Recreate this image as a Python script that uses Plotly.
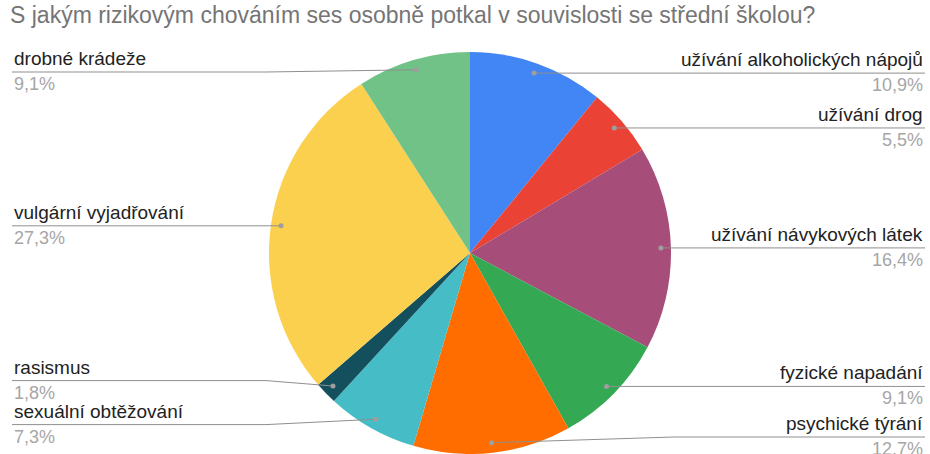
import math
import plotly.graph_objects as go

# ---- data ----
categories = ["užívání alkoholických nápojů", "užívání drog", "užívání návykových látek",
              "fyzické napadání", "psychické týrání", "sexuální obtěžování", "rasismus",
              "vulgární vyjadřování", "drobné krádeže"]
percent = [10.9, 5.5, 16.4, 9.1, 12.7, 7.3, 1.8, 27.3, 9.1]
colors = ["#4285F4", "#EA4335", "#A64D79", "#34A853", "#FF6D01", "#46BDC6",
          "#134F5C", "#FCD04F", "#71C287"]
title = "S jakým rizikovým chováním ses osobně potkal v souvislosti se střední školou?"

# ---- layout geometry ----
FW, FH = 930, 454
L, R_, T, B = 10, 0, 52, 0
W, H = FW - L - R_, FH - T - B
cx, cy = L + W / 2, T + H / 2
rad = min(W, H) / 2
FONT = "Arial, Liberation Sans"


def px(x):
    return (x - L) / W


def py(y):
    return 1 - (y - T) / H


fig = go.Figure(go.Pie(
    labels=categories, values=percent, sort=False, direction="clockwise",
    rotation=0, marker=dict(colors=colors, line=dict(width=0)),
    textinfo="none", hoverinfo="label+percent", showlegend=False,
    domain=dict(x=[0, 1], y=[0, 1]),
))

# label positions derived from slice angles
total = sum(percent)
items = []
acc = 0
for i, v in enumerate(percent):
    mid = (acc + v / 2) / total * 2 * math.pi
    acc += v
    dx, dy = math.sin(mid), -math.cos(mid)
    dotx, doty = cx + 0.95 * rad * dx, cy + 0.95 * rad * dy
    items.append(dict(i=i, side="r" if dx >= 0 else "l", dotx=dotx, doty=doty, ly=doty))

YMIN, YMAX, GAP = 72, 437, 44
for side in ("r", "l"):
    grp = sorted([it for it in items if it["side"] == side], key=lambda t: t["doty"])
    for _ in range(200):
        for a, b in zip(grp, grp[1:]):
            d = b["ly"] - a["ly"]
            if d < GAP:
                m = (GAP - d) / 2
                a["ly"] -= m
                b["ly"] += m
        for it in grp:
            it["ly"] = min(max(it["ly"], YMIN), YMAX)

shapes, annotations = [], []
LINE = "#8f8f8f"
for it in items:
    i = it["i"]
    right = it["side"] == "r"
    edge = 925 if right else 12
    bend = cx + (rad + 3) * (1 if right else -1)
    if abs(it["ly"] - it["doty"]) < 1.5:
        path = f"M {px(it['dotx'])} {py(it['doty'])} L {px(edge)} {py(it['doty'])}"
        ly = it["doty"]
    else:
        ly = it["ly"]
        path = (f"M {px(it['dotx'])} {py(it['doty'])} L {px(bend)} {py(ly)} "
                f"L {px(edge)} {py(ly)}")
    shapes.append(dict(type="path", path=path, xref="paper", yref="paper",
                       line=dict(color=LINE, width=1)))
    r = 2.5
    shapes.append(dict(type="circle", xref="paper", yref="paper",
                       x0=px(it["dotx"] - r), x1=px(it["dotx"] + r),
                       y0=py(it["doty"] - r), y1=py(it["doty"] + r),
                       fillcolor="#9e9e9e", line=dict(width=0)))
    anchor = "right" if right else "left"
    annotations.append(dict(x=px(edge), y=py(ly), xref="paper", yref="paper",
                            text=categories[i], showarrow=False, xanchor=anchor,
                            yanchor="bottom", yshift=1,
                            font=dict(family=FONT, size=19, color="#222222")))
    annotations.append(dict(x=px(edge), y=py(ly), xref="paper", yref="paper",
                            text=f"{percent[i]:.1f}%".replace(".", ","), showarrow=False,
                            xanchor=anchor, yanchor="top", yshift=0,
                            font=dict(family=FONT, size=18, color="#a6a6a6")))

fig.update_layout(
    width=FW, height=FH,
    margin=dict(l=L, r=R_, t=T, b=B),
    paper_bgcolor="white", plot_bgcolor="white",
    title=dict(text=title, xref="container", yref="container", x=10 / FW,
               xanchor="left", y=1 - 7 / FH, yanchor="top",
               font=dict(family=FONT, size=23, color="#757575")),
    shapes=shapes, annotations=annotations,
)

fig.write_html("out.html", config={"displayModeBar": False},
               post_script="document.body.style.margin='0';")
